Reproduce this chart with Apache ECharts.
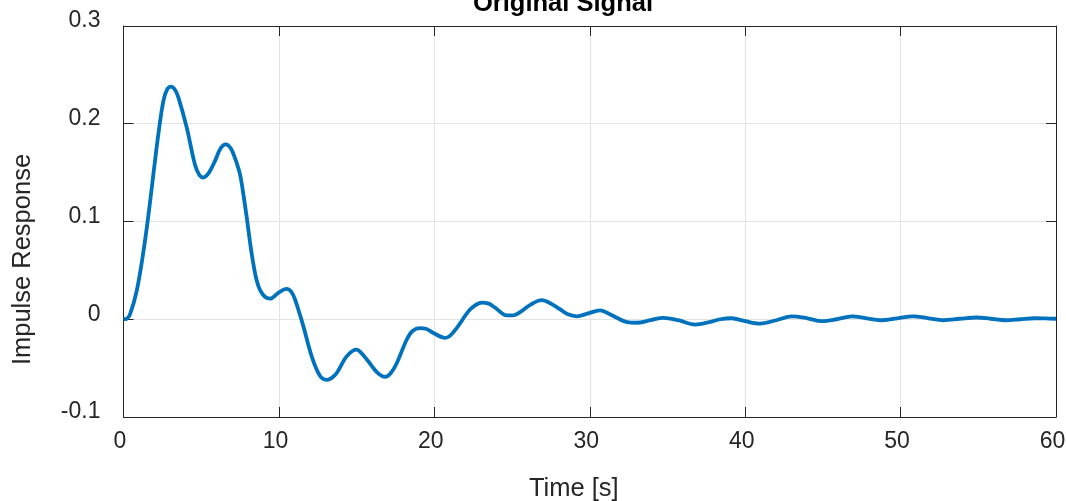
<!DOCTYPE html>
<html>
<head>
<meta charset="utf-8">
<script src="https://cdn.jsdelivr.net/npm/echarts@6/dist/echarts.min.js"></script>
<style>
html,body{margin:0;padding:0;background:#fff;}
#c{width:1066px;height:501px;}
</style>
</head>
<body>
<div id="c"></div>
<script>
const timeS = [0,0.2,0.42,0.85,1.27,1.6,1.92,2.24,2.56,2.8,3.06,3.3,3.53,4.07,4.6,4.9,5.14,5.5,5.89,6.25,6.58,6.9,7.17,7.5,7.71,7.93,8.14,8.35,8.55,8.78,9.1,9.43,9.96,10.5,10.8,11.04,11.57,12.11,12.65,13.11,13.4,13.72,14.36,14.96,15.22,15.75,16.3,16.83,17.2,17.58,18.22,18.6,19.08,19.5,19.94,20.69,21.0,21.44,22.19,22.6,23.05,23.5,23.9,24.66,25.1,25.5,26.2,26.91,27.5,28.1,28.6,29.16,29.9,30.66,31.2,31.74,32.4,33.02,33.9,34.74,35.7,36.78,37.7,38.4,39.14,40.0,40.96,42.0,43.0,44.0,44.93,45.9,46.86,47.8,48.7,49.8,50.8,51.8,52.76,53.8,54.9,55.8,56.8,57.7,58.6,59.3,60];
const response = [0,0.0005,0.005,0.029,0.068,0.106,0.148,0.189,0.223,0.235,0.238,0.235,0.227,0.196,0.158,0.147,0.145,0.150,0.162,0.175,0.179,0.175,0.165,0.148,0.128,0.104,0.079,0.057,0.041,0.030,0.023,0.021,0.027,0.031,0.028,0.020,-0.007,-0.038,-0.058,-0.062,-0.060,-0.055,-0.038,-0.031,-0.033,-0.043,-0.054,-0.059,-0.055,-0.045,-0.021,-0.012,-0.009,-0.010,-0.014,-0.019,-0.017,-0.009,0.008,0.014,0.017,0.016,0.012,0.004,0.004,0.007,0.015,0.0195,0.016,0.010,0.005,0.003,0.006,0.009,0.006,0.0015,-0.003,-0.0036,-0.001,0.0015,-0.001,-0.0055,-0.003,0,0.001,-0.002,-0.0044,-0.001,0.003,0.001,-0.002,0.0,0.003,0.001,-0.001,0.001,0.003,0.001,-0.001,0.0005,0.0018,0.0005,-0.001,0,0.001,0.0008,0.0005];
const xTicks = [0,10,20,30,40,50,60];
const yTicks = [-0.1,0,0.1,0.2,0.3];
const titleText = 'Original Signal';
const xName = 'Time [s]';
const yName = 'Impulse Response';

const FONT = '"Liberation Sans", Arial, Helvetica, sans-serif';
const AX = '#262626';
const chart = echarts.init(document.getElementById('c'), null, {renderer:'canvas'});
const pts = timeS.map((t,i)=>[t,response[i]]);
const baseAxis = {
  axisLine:{show:true,onZero:false,lineStyle:{color:AX,width:1}},
  axisTick:{show:true,inside:true,length:10,lineStyle:{color:AX,width:1}},
};
chart.setOption({
  animation:false,
  backgroundColor:'#fff',
  title:{text:titleText,left:558,textAlign:'center',top:-14,
    textStyle:{fontFamily:FONT,fontSize:25.5,fontWeight:'bold',color:'#000'}},
  grid:{left:123.5,right:10,top:26,bottom:84,containLabel:false,outerBoundsMode:'none'},
  xAxis:[
    Object.assign({},baseAxis,{type:'value',min:xTicks[0],max:xTicks[xTicks.length-1],interval:10,position:'bottom',
      name:xName,nameLocation:'middle',nameGap:59,
      nameTextStyle:{fontFamily:FONT,fontSize:25.5,color:AX,padding:[0,32,0,0]},
      axisLabel:{show:true,margin:13,fontFamily:FONT,fontSize:23,color:AX,padding:[0,7,0,0],
        formatter:v=>String(v)},
      splitLine:{show:true,lineStyle:{color:'#e3e3e3',width:1}}}),
    Object.assign({},baseAxis,{type:'value',min:xTicks[0],max:xTicks[xTicks.length-1],interval:10,position:'top',
      axisLabel:{show:false},splitLine:{show:false}})
  ],
  yAxis:[
    Object.assign({},baseAxis,{type:'value',min:yTicks[0],max:yTicks[yTicks.length-1],interval:0.1,position:'left',
      name:yName,nameLocation:'middle',nameGap:88,
      nameTextStyle:{fontFamily:FONT,fontSize:25.5,color:AX,padding:[0,76,0,0]},
      axisLabel:{show:true,margin:23,fontFamily:FONT,fontSize:23,color:AX,verticalAlign:'bottom',lineHeight:10,
        formatter:v=>String(Math.round(v*10)/10)},
      splitLine:{show:true,lineStyle:{color:'#e3e3e3',width:1}}}),
    Object.assign({},baseAxis,{type:'value',min:yTicks[0],max:yTicks[yTicks.length-1],interval:0.1,position:'right',
      axisLabel:{show:false},splitLine:{show:false}})
  ],
  series:[{
    type:'line',data:pts,xAxisIndex:0,yAxisIndex:0,showSymbol:false,smooth:0.35,
    lineStyle:{color:'#0072BD',width:3.8},clip:true
  }]
});
</script>
</body>
</html>
